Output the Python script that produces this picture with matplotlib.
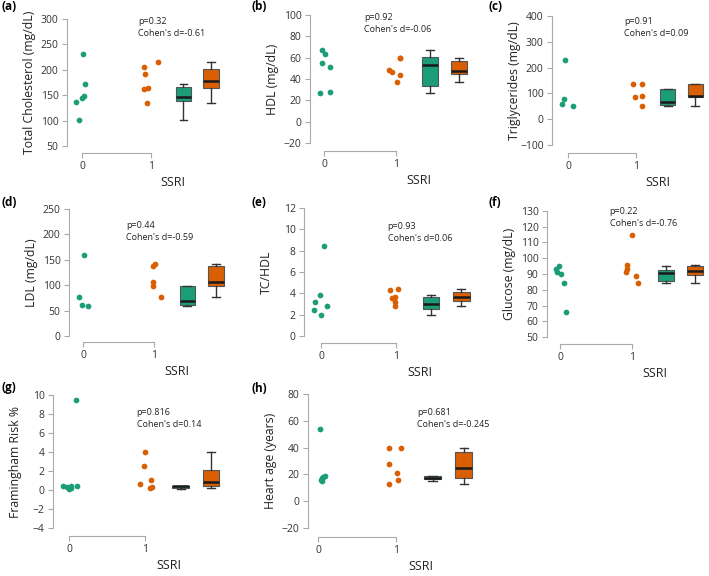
import numpy as np
import matplotlib
matplotlib.use('Agg')
import matplotlib.pyplot as plt
from matplotlib.transforms import blended_transform_factory

plt.rcParams['font.family'] = ['Open Sans', 'DejaVu Sans']

# values (SSRI = 0 green, SSRI = 1 orange)
ylabels = ['Total Cholesterol (mg/dL)', 'HDL (mg/dL)', 'Triglycerides (mg/dL)',
           'LDL (mg/dL)', 'TC/HDL', 'Glucose (mg/dL)',
           'Framingham Risk %', 'Heart age (years)']
panel_tags = ['(a)', '(b)', '(c)', '(d)', '(e)', '(f)', '(g)', '(h)']
stats_text = ["p=0.32\nCohen's d=-0.61", "p=0.92\nCohen's d=-0.06",
              "p=0.91\nCohen's d=0.09", "p=0.44\nCohen's d=-0.59",
              "p=0.93\nCohen's d=0.06", "p=0.22\nCohen's d=-0.76",
              "p=0.816\nCohen's d=0.14", "p=0.681\nCohen's d=-0.245"]
yticks = [np.arange(50, 301, 50), np.arange(-20, 101, 20), np.arange(-100, 401, 100),
          np.arange(0, 251, 50), np.arange(0, 13, 2), np.arange(50, 131, 10),
          np.arange(-4, 11, 2), np.arange(-20, 81, 20)]

ssri0 = [[232, 173, 148, 145, 137, 101],
         [67, 63, 55, 51, 27, 28],
         [231, 79, 57, 51],
         [159, 77, 61, 59],
         [8.4, 3.8, 3.2, 2.8, 2.4, 2.0],
         [95, 93, 91, 90, 84, 66],
         [9.5, 0.45, 0.3, 0.15, 0.4, 0.45, 0.2],
         [54, 19, 18, 17, 16, 15]]
ssri1 = [[215, 206, 192, 164, 163, 135],
         [60, 60, 48, 47, 44, 37],
         [135, 135, 87, 90, 51],
         [142, 137, 107, 99, 77],
         [4.3, 4.4, 3.55, 3.7, 3.2, 2.85],
         [115, 96, 93, 91, 89, 84],
         [4.0, 2.5, 1.1, 0.6, 0.3, 0.2],
         [40, 40, 28, 21, 16, 13]]
# strip-plot jitter as seen in the picture
jit0 = [[0.02, 0.04, 0.03, 0.0, -0.08, -0.05],
        [-0.03, 0.02, -0.03, 0.09, -0.06, 0.08],
        [-0.05, -0.06, -0.09, 0.07],
        [0.01, -0.05, -0.01, 0.07],
        [0.04, -0.01, -0.08, 0.08, -0.09, 0.0],
        [-0.01, -0.05, -0.04, 0.02, 0.06, 0.08],
        [0.09, -0.08, -0.03, 0.0, 0.03, 0.10, 0.02],
        [0.02, 0.09, 0.07, 0.05, 0.04, 0.05]]
jit1 = [[0.10, -0.10, -0.08, -0.05, -0.10, -0.06],
        [0.05, 0.05, -0.10, -0.06, 0.05, 0.01],
        [-0.05, 0.09, -0.02, 0.09, 0.09],
        [0.02, -0.01, -0.01, -0.01, 0.10],
        [-0.08, 0.02, -0.06, -0.01, -0.02, -0.01],
        [0.0, -0.07, -0.07, -0.08, 0.06, 0.08],
        [0.0, -0.01, 0.08, -0.07, 0.09, 0.07],
        [-0.09, 0.06, -0.09, 0.01, 0.03, -0.09]]

# layout in pixels: left spine x, x of 0, x of 1, top tick y, bottom tick y, bottom spine y
layout = [(67, 82, 151, 19, 146, 153), (310, 324, 396, 15, 143, 151),
          (552, 568, 636, 16, 145, 153), (69, 83, 154, 209, 336, 342),
          (304, 321, 396, 208, 336, 343), (547, 560, 632, 211, 337, 344),
          (53, 69, 145, 395, 528, 536), (308, 318, 396, 394, 528, 537)]
text_pos = [(0.81, -2), (0.56, -2), (0.83, 1), (0.61, 12),
            (0.89, 14), (0.69, -4), (0.89, 13), (1.27, 14)]
tag_pos = [(2, 6), (252, 6), (488, 6), (2, 203), (252, 203), (488, 203), (2, 388), (252, 388)]

W, H = 709, 576
green, orange = '#1b9e77', '#d95f02'
gray = '#aaaaaa'

fig = plt.figure(figsize=(W / 100, H / 100), dpi=100)

for i in range(8):
    L, x0, x1, top, bot, sy = layout[i]
    s = x1 - x0
    xmin = -(x0 - L) / s
    xmax = 2.1
    right = L + (xmax - xmin) * s
    ax = fig.add_axes([L / W, 1 - bot / H, (right - L) / W, (bot - top) / H])
    ax.set_xlim(xmin, xmax)
    ax.set_ylim(yticks[i][0], yticks[i][-1])

    ax.scatter(np.array(jit0[i]), ssri0[i], s=17, color=green, zorder=3, clip_on=False, linewidths=0)
    ax.scatter(1 + np.array(jit1[i]), ssri1[i], s=17, color=orange, zorder=3, clip_on=False, linewidths=0)

    bp = ax.boxplot([ssri0[i], ssri1[i]], positions=[1.47, 1.87], widths=0.22,
                    showfliers=False, patch_artist=True, manage_ticks=False,
                    medianprops=dict(color='#1a1a1a', linewidth=1.8),
                    whiskerprops=dict(color='#333333', linewidth=1.0),
                    capprops=dict(color='#333333', linewidth=1.0),
                    boxprops=dict(edgecolor='#555555', linewidth=0.8))
    for patch, c in zip(bp['boxes'], [green, orange]):
        patch.set_facecolor(c)

    for side in ['top', 'right']:
        ax.spines[side].set_visible(False)
    ax.spines['bottom'].set_position(('outward', (sy - bot) * 0.72))
    ax.spines['bottom'].set_bounds(0, 1)
    for side in ['left', 'bottom']:
        ax.spines[side].set_color(gray)
        ax.spines[side].set_linewidth(0.8)
    ax.set_xticks([0, 1])
    ax.set_xticklabels(['0', '1'])
    ax.set_yticks(yticks[i])
    ax.tick_params(colors=gray, labelcolor='#333333', labelsize=7.5, length=3.5, width=0.8, pad=2.5)

    ax.set_ylabel(ylabels[i], fontsize=8.8, color='#222222')
    ax.yaxis.set_label_coords(-31 / (right - L), 0.5)
    ax.set_xlabel('SSRI', fontsize=9, color='#222222')
    ax.xaxis.set_label_coords(1.32, 1 - (sy + 23 - top) / (bot - top),
                              transform=blended_transform_factory(ax.transData, ax.transAxes))

    tx, dy = text_pos[i]
    ax.text(tx, 1 - dy / (bot - top), stats_text[i], fontsize=6.5, va='top', ha='left',
            color='#222222', linespacing=1.45,
            transform=blended_transform_factory(ax.transData, ax.transAxes))

    px, py = tag_pos[i]
    fig.text(px / W, 1 - py / H, panel_tags[i], fontsize=8.5, fontweight='bold', va='center', ha='left')

fig.savefig('out.png', dpi=100)
